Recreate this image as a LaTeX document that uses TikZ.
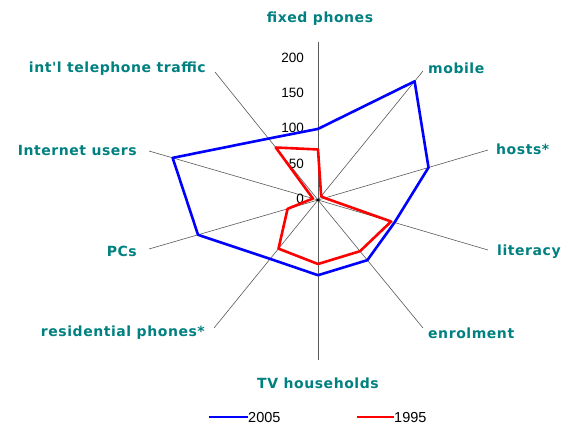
\documentclass[tikz,border=0pt]{standalone}
\usepackage{fontspec}
\setmainfont{Liberation Sans}
\newfontfamily\labelfont[LetterSpace=4]{DejaVu Sans}
\usetikzlibrary{calc}
\definecolor{labelteal}{RGB}{0,128,128}
\tikzset{
  spoke/.style={black!65, line width=0.6pt},
  axlabel/.style={font=\labelfont\bfseries\fontsize{14}{14}\selectfont, text=labelteal, inner sep=0pt},
  ticklabel/.style={font=\fontsize{13.5}{13.5}\selectfont, anchor=east, inner sep=0pt},
  legendlabel/.style={font=\fontsize{14.5}{14.5}\selectfont, anchor=west, inner sep=0pt},
  series2005/.style={blue, line width=2.6pt, line join=round},
  series1995/.style={red, line width=2.6pt, line join=round},
}

\begin{document}
\begin{tikzpicture}[x=1pt,y=-1pt]
    \useasboundingbox[fill=white] (0,0) rectangle (569,424);

    % === Spokes ===
    \coordinate (C) at (318,200);
    \coordinate (fixed) at (318,42);
    \coordinate (mobile) at (423,71);
    \coordinate (hosts) at (488,150);
    \coordinate (literacy) at (488,250);
    \coordinate (enrol) at (423,328);
    \coordinate (tv) at (318,360);
    \coordinate (resid) at (214,328);
    \coordinate (pcs) at (149,249);
    \coordinate (inet) at (149,151);
    \coordinate (intl) at (215,72);
    \foreach \e in {fixed,mobile,hosts,literacy,enrol,tv,resid,pcs,inet,intl}
        \draw[spoke] (C) -- (\e);

    % Scala
    \node[ticklabel] (t0) at (304,199) {0};
    \node[ticklabel] (t50) at (304,164) {50};
    \node[ticklabel] (t100) at (304,128) {100};
    \node[ticklabel] (t150) at (304,93) {150};
    \node[ticklabel] (t200) at (304,58) {200};

    % === 1995 ===
    \draw[series1995] ($(C)!0.32!(fixed)$) -- ($(C)!0.03!(mobile)$) -- ($(C)!0.04!(hosts)$)
        -- ($(C)!0.43!(literacy)$) -- ($(C)!0.40!(enrol)$) -- ($(C)!0.40!(tv)$)
        -- ($(C)!0.38!(resid)$) -- ($(C)!0.18!(pcs)$) -- ($(C)!0.03!(inet)$)
        -- ($(C)!0.41!(intl)$) -- cycle;

    % === 2005 ===
    \draw[series2005] ($(C)!0.45!(fixed)$) -- ($(C)!0.92!(mobile)$) -- ($(C)!0.65!(hosts)$)
        -- ($(C)!0.45!(literacy)$) -- ($(C)!0.47!(enrol)$) -- ($(C)!0.47!(tv)$)
        -- ($(C)!0.46!(resid)$) -- ($(C)!0.71!(pcs)$) -- ($(C)!0.86!(inet)$)
        -- ($(C)!0.48!(intl)$) -- cycle;
    \fill (C) circle (1.6);

    % Etichette
    \node[axlabel] (lfixed) at (320,19) {fixed phones};
    \node[axlabel, anchor=west] (lmobile) at (428,68) {mobile};
    \node[axlabel, anchor=west] (lhosts) at (496,149) {hosts*};
    \node[axlabel, anchor=west] (lliteracy) at (497,252) {literacy};
    \node[axlabel, anchor=west] (lenrol) at (428,333) {enrolment};
    \node[axlabel] (ltv) at (318,383) {TV households};
    \node[axlabel, anchor=east] (lresid) at (205,333) {residential phones*};
    \node[axlabel, anchor=east] (lpcs) at (137,251) {PCs};
    \node[axlabel, anchor=east] (linet) at (137,150) {Internet users};
    \node[axlabel, anchor=east] (lintl) at (206,69) {int'l telephone traffic};

    % Legenda
    \coordinate (k2005) at (209,417);
    \coordinate (k1995) at (357,417);
    \node[legendlabel] (l2005) at (248,417) {2005};
    \node[legendlabel] (l1995) at (394,417) {1995};
    \draw[blue, line width=2.6pt] (k2005) -- (l2005.west);
    \draw[red, line width=2.6pt] (k1995) -- (l1995.west);
\end{tikzpicture}
\end{document}
